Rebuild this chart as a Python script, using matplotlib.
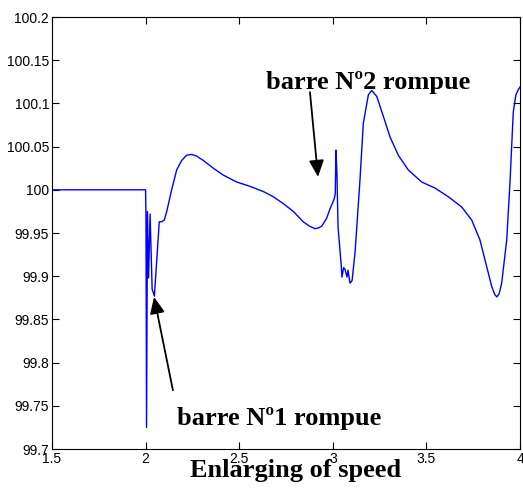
import matplotlib
matplotlib.use("Agg")
import matplotlib.pyplot as plt

# speed trace (time, speed)
t = [1.5, 2.0, 2.002, 2.005, 2.010, 2.016, 2.024, 2.035, 2.047, 2.060,
     2.073, 2.086, 2.100, 2.113, 2.139, 2.166, 2.193, 2.219, 2.246, 2.273,
     2.308, 2.362, 2.415, 2.487, 2.558, 2.629, 2.682, 2.736, 2.789, 2.842,
     2.875, 2.905, 2.925, 2.941, 2.967, 2.985, 2.995, 3.001, 3.008, 3.013,
     3.017, 3.022, 3.028, 3.044, 3.049, 3.058, 3.065, 3.076, 3.081, 3.092,
     3.103, 3.119, 3.145, 3.163, 3.190, 3.208, 3.235, 3.270, 3.306, 3.350,
     3.403, 3.475, 3.546, 3.617, 3.689, 3.742, 3.786, 3.822, 3.849, 3.865,
     3.876, 3.889, 3.902, 3.929, 3.947, 3.964, 3.978, 3.991, 4.0]
speed = [100.0, 100.0, 99.97, 99.725, 99.975, 99.898, 99.972, 99.885,
         99.877, 99.92, 99.963, 99.963, 99.965, 99.975, 99.9998, 100.023,
         100.034, 100.040, 100.041, 100.039, 100.034, 100.025, 100.017,
         100.009, 100.004, 99.998, 99.992, 99.984, 99.975, 99.963, 99.958,
         99.955, 99.956, 99.958, 99.967, 99.978, 99.983, 99.986, 99.99,
         99.995, 100.046, 100.02, 99.957, 99.915, 99.899, 99.91, 99.908,
         99.899, 99.907, 99.892, 99.895, 99.928, 100.011, 100.077, 100.110,
         100.115, 100.108, 100.085, 100.061, 100.040, 100.023, 100.009,
         100.002, 99.992, 99.980, 99.965, 99.942, 99.911, 99.888, 99.879,
         99.876, 99.880, 99.892, 99.942, 100.011, 100.090, 100.110, 100.116,
         100.119]

xticks = [1.5, 2, 2.5, 3, 3.5, 4]
xlabels = ["1.5", "2", "2.5", "3", "3.5", "4"]
yticks = [99.7, 99.75, 99.8, 99.85, 99.9, 99.95, 100, 100.05, 100.1, 100.15, 100.2]
ylabels = ["99.7", "99.75", "99.8", "99.85", "99.9", "99.95", "100",
           "100.05", "100.1", "100.15", "100.2"]

fig = plt.figure(figsize=(5.23, 4.93), dpi=100)
ax = fig.add_axes([0.0994, 0.0892, 0.8949, 0.8763])

ax.plot(t, speed, color=(0, 0, 1), lw=1.0)
ax.set_xlim(1.5, 4)
ax.set_ylim(99.7, 100.2)
ax.set_xticks(xticks)
ax.set_xticklabels(xlabels)
ax.set_yticks(yticks)
ax.set_yticklabels(ylabels)
ax.tick_params(direction="in", length=5, top=True, right=True,
               labelsize=10, pad=2)
for lab in ax.get_xticklabels() + ax.get_yticklabels():
    lab.set_fontfamily("Liberation Sans")
for s in ax.spines.values():
    s.set_linewidth(0.8)

bold = dict(family="Liberation Serif", fontweight="bold", fontsize=19)
arrow = dict(arrowstyle="-|>,head_width=0.45,head_length=1.0",
             color="black", lw=1.3, shrinkA=0, shrinkB=0)

ax.text(2.643, 100.117, "barre Nº2 rompue", va="baseline", ha="left", **bold)
ax.annotate("", xy=(2.921, 100.015), xytext=(2.878, 100.113), arrowprops=arrow)

ax.text(2.168, 99.728, "barre Nº1 rompue", va="baseline", ha="left", **bold)
ax.annotate("", xy=(2.045, 99.876), xytext=(2.146, 99.768), arrowprops=arrow)

fig.text(0.566, 0.0325, "Enlarging of speed", ha="center", va="baseline", **bold)

fig.savefig("out.png", dpi=100)
